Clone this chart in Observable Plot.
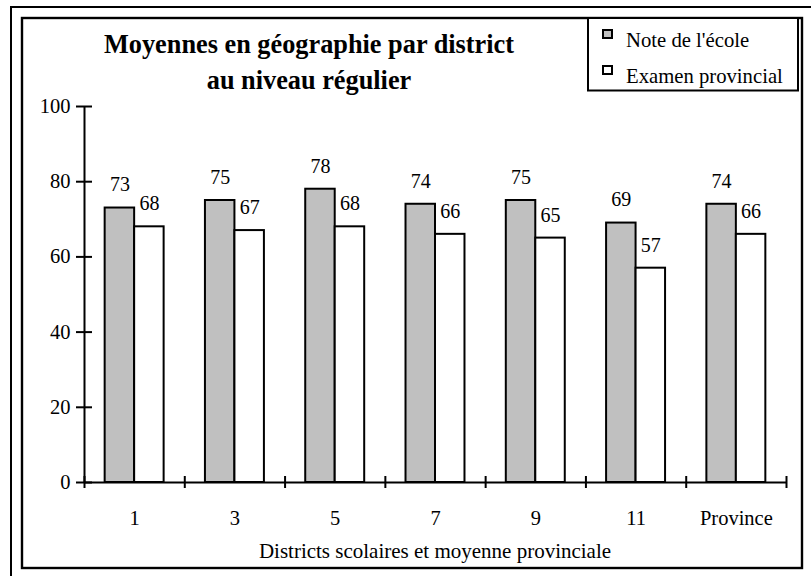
<!DOCTYPE html>
<html>
<head>
<meta charset="utf-8">
<script src="https://cdn.jsdelivr.net/npm/d3@7"></script>
<script src="https://cdn.jsdelivr.net/npm/@observablehq/plot@0.6"></script>
<style>
  html, body { margin: 0; padding: 0; background: #fff; }
  #chart { width: 811px; height: 576px; }
  #chart text { font-family: "Liberation Serif", "Times New Roman", Times, serif; }
</style>
</head>
<body>
<div id="chart"></div>
<script>
// ---- data ----
const districts = ["1", "3", "5", "7", "9", "11", "Province"];
const noteEcole = [73, 75, 78, 74, 75, 69, 74];
const examenProvincial = [68, 67, 68, 66, 65, 57, 66];
const seriesNames = ["Note de l'école", "Examen provincial"];
const seriesFill = ["#c0c0c0", "#ffffff"];
const yTicks = [0, 20, 40, 60, 80, 100];
const titleLines = ["Moyennes en géographie par district", "au niveau régulier"];
const xTitle = "Districts scolaires et moyenne provinciale";

const font = "Liberation Serif";
const barW = 0.294; // bar width in category units

const rows = [];
districts.forEach((d, i) => {
  rows.push({district: d, i, s: 0, value: noteEcole[i]});
  rows.push({district: d, i, s: 1, value: examenProvincial[i]});
});
const x1 = r => r.s === 0 ? r.i + 0.5 - barW : r.i + 0.5;
const x2 = r => r.s === 0 ? r.i + 0.5 : r.i + 0.5 + barW;

const chart = Plot.plot({
  width: 811,
  height: 576,
  marginLeft: 84,
  marginRight: 25,
  marginTop: 106,
  marginBottom: 94,
  style: {fontFamily: font, fontSize: "20px", color: "#000", background: "#fff", overflow: "visible"},
  x: {domain: [0, districts.length], axis: null},
  y: {domain: [0, 100], axis: null},
  marks: [
    Plot.rect(rows, {x1, x2, y1: 0, y2: "value", fill: r => seriesFill[r.s], stroke: "#000", strokeWidth: 2}),
    Plot.text(rows, {x: r => (x1(r) + x2(r)) / 2, y: "value", text: r => String(r.value), dy: -23, fontSize: 20, fontFamily: font, fill: "#000"}),
    Plot.ruleY([0], {x1: 0, x2: districts.length, stroke: "#000", strokeWidth: 2}),
    Plot.ruleX([0], {y1: 0, y2: 100, stroke: "#000", strokeWidth: 2}),
    Plot.ruleY(yTicks, {x1: 0, x2: 0, insetLeft: -8, insetRight: -8, stroke: "#000", strokeWidth: 2}),
    Plot.text(yTicks, {x: 0, y: d => d, text: d => String(d), dx: -14, textAnchor: "end", fontSize: 20.5, fontFamily: font, fill: "#000"}),
    Plot.ruleX(d3.range(districts.length + 1), {y1: 0, y2: 0, insetTop: -6, insetBottom: -6, stroke: "#000", strokeWidth: 2}),
    Plot.text(districts, {x: (d, i) => i + 0.5, y: 0, text: d => d, dy: 36, fontSize: 20.5, fontFamily: font, fill: "#000"})
  ]
});

const svg = d3.select(chart);

// frames
svg.append("path").attr("d", "M11,576V7H811").attr("fill", "none").attr("stroke", "#000").attr("stroke-width", 2);
svg.append("rect").attr("x", 22).attr("y", 18).attr("width", 780).attr("height", 550)
  .attr("fill", "none").attr("stroke", "#000").attr("stroke-width", 2.4);

// title
const t = svg.append("text").attr("x", 309).attr("text-anchor", "middle")
  .attr("font-family", font).attr("font-size", 26.3).attr("font-weight", "bold").attr("fill", "#000");
titleLines.forEach((line, k) => t.append("tspan").attr("x", 309).attr("y", 53 + k * 36).text(line));

// x axis title
svg.append("text").attr("x", 435).attr("y", 558).attr("text-anchor", "middle")
  .attr("font-family", font).attr("font-size", 21).attr("fill", "#000").text(xTitle);

// legend
const lg = svg.append("g");
lg.append("rect").attr("x", 588).attr("y", 18).attr("width", 210).attr("height", 72.5)
  .attr("fill", "#fff").attr("stroke", "#000").attr("stroke-width", 2);
seriesNames.forEach((name, k) => {
  lg.append("rect").attr("x", 603).attr("y", 30 + k * 36).attr("width", 9).attr("height", 8)
    .attr("fill", seriesFill[k]).attr("stroke", "#000").attr("stroke-width", 2);
  lg.append("text").attr("x", 626).attr("y", 47 + k * 36).attr("text-anchor", "start")
    .attr("font-family", font).attr("font-size", 20.7).attr("fill", "#000").text(name);
});

document.getElementById("chart").appendChild(chart);
</script>
</body>
</html>
